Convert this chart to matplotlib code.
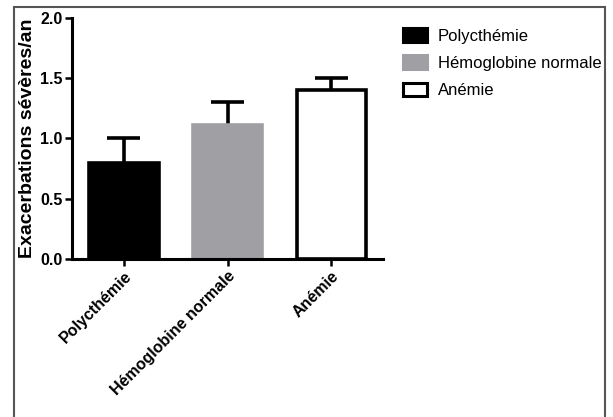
import numpy as np
import matplotlib
matplotlib.use('Agg')
import matplotlib.pyplot as plt
from matplotlib.patches import Patch, Rectangle

plt.rcParams['font.family'] = ['Liberation Sans', 'DejaVu Sans']

# Data
groups = ['Polycthémie', 'Hémoglobine normale', 'Anémie']
means = [0.8, 1.11, 1.4]
errs = [0.2, 0.19, 0.1]
face_colors = ['#000000', '#a0a0a4', '#ffffff']
edge_colors = ['#000000', '#a0a0a4', '#000000']
y_ticks = [0.0, 0.5, 1.0, 1.5, 2.0]

fig = plt.figure(figsize=(6.13, 4.17), dpi=100)
ax = fig.add_axes([0.1175, 0.379, 0.5075, 0.578])

x = np.arange(len(groups))
width = 0.67
means_arr = np.array(means)
errs_arr = np.array(errs)

# upper-only error bars, drawn behind the bars
ax.vlines(x, means_arr, means_arr + errs_arr, color='black', lw=2.6, zorder=1)
ax.hlines(means_arr + errs_arr, x - 0.16, x + 0.16, color='black', lw=2.6, zorder=1)
ax.bar(x, means, width, color=face_colors, edgecolor=edge_colors,
       linewidth=2.6, zorder=2)

ax.set_xlim(-0.5, 2.5)
ax.set_ylim(0, 2.0)
ax.set_yticks(y_ticks)
ax.set_yticklabels([f'{v:.1f}' for v in y_ticks], fontsize=11.5, fontweight='bold')
ax.set_xticks(x)
ax.set_xticklabels(groups, rotation=45, ha='right', rotation_mode='anchor',
                   fontsize=11.5, fontweight='bold')
ax.set_ylabel('Exacerbations sévères/an', fontsize=14, fontweight='bold', labelpad=3)

for side in ['top', 'right']:
    ax.spines[side].set_visible(False)
for side in ['left', 'bottom']:
    ax.spines[side].set_linewidth(2.2)
ax.tick_params(axis='both', width=1.8, length=5, pad=2)

handles = [Patch(facecolor=fc, edgecolor=ec, linewidth=2.2)
           for fc, ec in zip(face_colors, edge_colors)]
fig.legend(handles, groups, loc='upper left', bbox_to_anchor=(0.633, 0.968),
           frameon=False, fontsize=12, handlelength=1.45, handleheight=0.85,
           handletextpad=0.65, labelspacing=0.7)

# outer frame of the original figure
fig.patches.append(Rectangle((0.0228, -0.1), 0.964, 1.083, transform=fig.transFigure,
                             fill=False, edgecolor='#555555', linewidth=1.5))

fig.savefig('out.png', dpi=100)
